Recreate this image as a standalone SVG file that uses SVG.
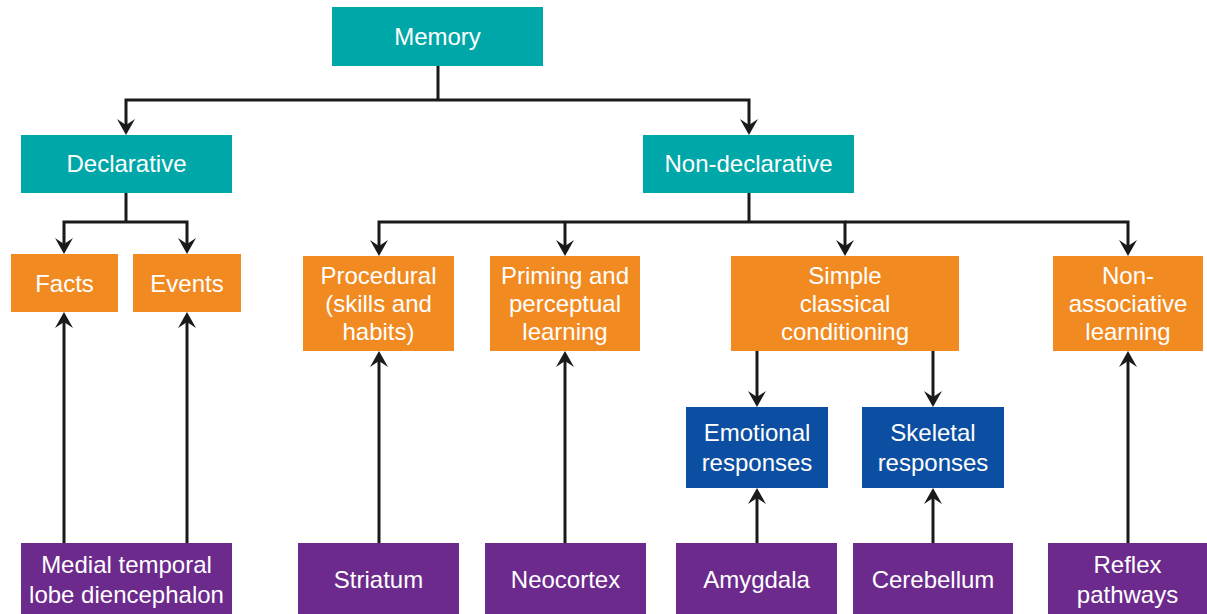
<svg xmlns="http://www.w3.org/2000/svg" width="1207" height="614" viewBox="0 0 1207 614">
<style>
.teal{fill:#00a7a8}
.orange{fill:#f28a22}
.blue{fill:#0b4ea2}
.purple{fill:#6c2a8c}
text{font-family:"Liberation Sans",Arial,sans-serif;font-size:24px;fill:#ffffff;text-anchor:middle}
.conn path{fill:none;stroke:#1a1a1a;stroke-width:3}
.conn path.arr{marker-end:url(#ah)}
</style>
<defs>
<marker id="ah" viewBox="0 -9 16 18" refX="6" refY="0" markerWidth="16" markerHeight="18" markerUnits="userSpaceOnUse" orient="auto">
<path d="M0,-9 L16,0 L0,9 L6,0 Z" fill="#1a1a1a"/>
</marker>
</defs>
<rect width="1207" height="614" fill="#ffffff"/>
<g class="conn" id="connectors">
<path d="M438 66 V100"/>
<path class="arr" d="M438 100 H126 V125"/>
<path class="arr" d="M438 100 H749 V125"/>
<path d="M126 193 V222"/>
<path class="arr" d="M126 222 H64 V244"/>
<path class="arr" d="M126 222 H187 V244"/>
<path d="M749 193 V222"/>
<path class="arr" d="M749 222 H379 V246"/>
<path class="arr" d="M565 222 V246"/>
<path class="arr" d="M749 222 H845 V246"/>
<path class="arr" d="M845 222 H1128 V246"/>
<path class="arr" d="M757 351 V397"/>
<path class="arr" d="M933 351 V397"/>
<path class="arr" d="M64 543 V322"/>
<path class="arr" d="M187 543 V322"/>
<path class="arr" d="M379 543 V361"/>
<path class="arr" d="M565 543 V361"/>
<path class="arr" d="M757 543 V498"/>
<path class="arr" d="M933 543 V498"/>
<path class="arr" d="M1128 543 V361"/>
</g>
<g id="memory"><rect class="teal" x="332" y="7" width="211" height="59"/><text x="437.5" y="45">Memory</text></g>
<g id="declarative"><rect class="teal" x="21" y="135" width="211" height="58"/><text x="126.5" y="172">Declarative</text></g>
<g id="nondeclarative"><rect class="teal" x="643" y="135" width="211" height="58"/><text x="748.5" y="172">Non-declarative</text></g>
<g id="facts"><rect class="orange" x="11" y="254" width="107" height="58"/><text x="64.5" y="292">Facts</text></g>
<g id="events"><rect class="orange" x="133" y="254" width="108" height="58"/><text x="187" y="292">Events</text></g>
<g id="procedural"><rect class="orange" x="303" y="256" width="151" height="95"/><text x="378.5" y="284">Procedural</text><text x="378.5" y="312">(skills and</text><text x="378.5" y="340">habits)</text></g>
<g id="priming"><rect class="orange" x="490" y="256" width="150" height="95"/><text x="565" y="284">Priming and</text><text x="565" y="312">perceptual</text><text x="565" y="340">learning</text></g>
<g id="simple"><rect class="orange" x="731" y="256" width="228" height="95"/><text x="845" y="284">Simple</text><text x="845" y="312">classical</text><text x="845" y="340">conditioning</text></g>
<g id="nonassociative"><rect class="orange" x="1053" y="256" width="150" height="95"/><text x="1128" y="284">Non-</text><text x="1128" y="312">associative</text><text x="1128" y="340">learning</text></g>
<g id="emotional"><rect class="blue" x="686" y="407" width="142" height="81"/><text x="757" y="441">Emotional</text><text x="757" y="471">responses</text></g>
<g id="skeletal"><rect class="blue" x="862" y="407" width="142" height="81"/><text x="933" y="441">Skeletal</text><text x="933" y="471">responses</text></g>
<g id="medial"><rect class="purple" x="21" y="543" width="211" height="71"/><text x="126.5" y="573">Medial temporal</text><text x="126.5" y="603">lobe diencephalon</text></g>
<g id="striatum"><rect class="purple" x="298" y="543" width="161" height="71"/><text x="378.5" y="588">Striatum</text></g>
<g id="neocortex"><rect class="purple" x="485" y="543" width="161" height="71"/><text x="565.5" y="588">Neocortex</text></g>
<g id="amygdala"><rect class="purple" x="676" y="543" width="161" height="71"/><text x="756.5" y="588">Amygdala</text></g>
<g id="cerebellum"><rect class="purple" x="853" y="543" width="160" height="71"/><text x="933" y="588">Cerebellum</text></g>
<g id="reflex"><rect class="purple" x="1048" y="543" width="159" height="71"/><text x="1127.5" y="573">Reflex</text><text x="1127.5" y="603">pathways</text></g>
</svg>
